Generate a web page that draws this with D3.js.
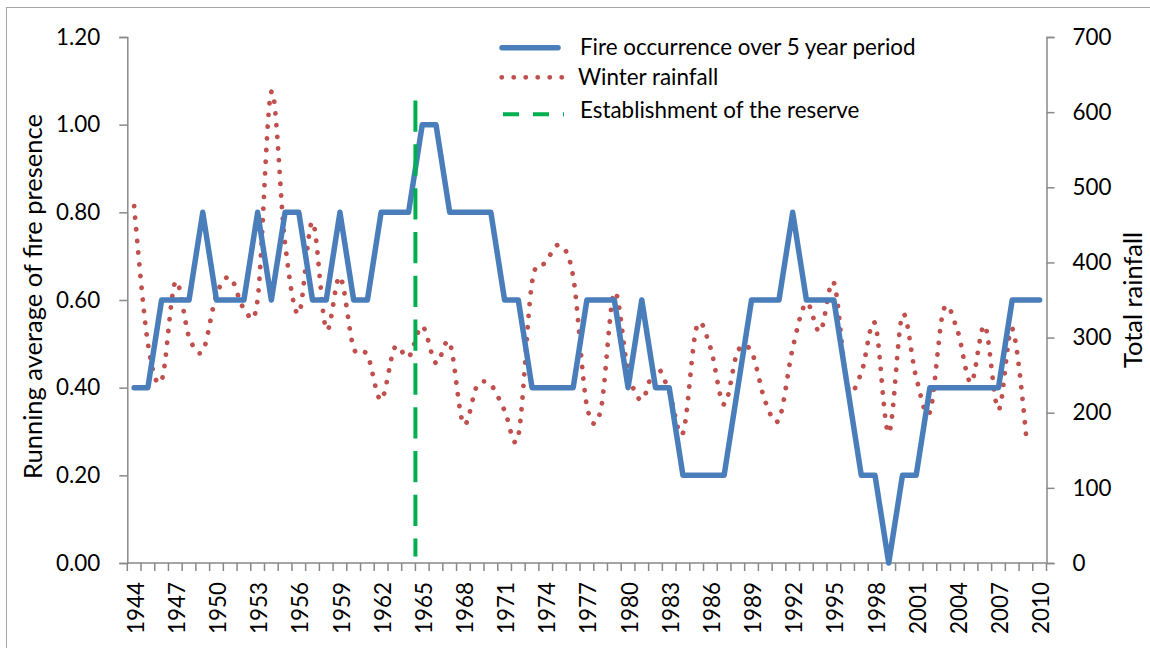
<!DOCTYPE html>
<html>
<head>
<meta charset="utf-8">
<script src="https://cdn.jsdelivr.net/npm/d3@7"></script>
<style>
  body { margin: 0; background: #fff; }
  svg text { font-family: Lato, "Open Sans", sans-serif; fill: #000; }
</style>
</head>
<body>
<div id="container"></div>
<script>
const years = d3.range(1944, 2011)

// running average of fire presence, 1944-2010
const fire = [0.4, 0.4, 0.6, 0.6, 0.6, 0.8, 0.6, 0.6, 0.6, 0.8,
  0.6, 0.8, 0.8, 0.6, 0.6, 0.8, 0.6, 0.6, 0.8, 0.8,
  0.8, 1.0, 1.0, 0.8, 0.8, 0.8, 0.8, 0.6, 0.6, 0.4,
  0.4, 0.4, 0.4, 0.6, 0.6, 0.6, 0.4, 0.6, 0.4, 0.4,
  0.2, 0.2, 0.2, 0.2, 0.4, 0.6, 0.6, 0.6, 0.8, 0.6,
  0.6, 0.6, 0.4, 0.2, 0.2, 0.0, 0.2, 0.2, 0.4, 0.4,
  0.4, 0.4, 0.4, 0.4, 0.6, 0.6, 0.6]

// winter rainfall, 1944-2009
const rainfall = [475, 292, 243, 374, 301, 282, 357, 380, 339, 351,
  627, 425, 332, 454, 311, 381, 286, 277, 217, 287,
  274, 315, 266, 293, 185, 236, 237, 203, 169, 373,
  400, 423, 381, 209, 203, 360, 256, 217, 261, 228,
  173, 314, 287, 211, 282, 281, 215, 191, 286, 346,
  308, 373, 235, 253, 319, 173, 330, 247, 201, 337,
  310, 240, 316, 204, 312, 172]

const reserveYear = 1965
const reserveSpan = [0.015, 1.055]

const leftTicks = [0, 0.2, 0.4, 0.6, 0.8, 1.0, 1.2]
const rightTicks = [0, 100, 200, 300, 400, 500, 600, 700]
const yearLabels = years.filter((d, i) => i % 3 === 0)

const legendItems = ["Fire occurrence over 5 year period", "Winter rainfall", "Establishment of the reserve"]

const w = 1150
const h = 648
const padL = 127.3, padR = 1046.5, padT = 37, padB = 563

const blue = "#4A7EBB", red = "#C0504D", green = "#00B050", axisCol = "#898989"

const svg = d3.select("#container")
  .append("svg")
  .attr("width", w)
  .attr("height", h)

svg.append("rect")
  .attr("x", 6.5).attr("y", 7.5)
  .attr("width", w).attr("height", h)
  .attr("fill", "none")
  .attr("stroke", "#a6a6a6")

const x = d3.scaleBand()
  .domain(years)
  .range([padL, padR])

const yL = d3.scaleLinear().domain([0, 1.2]).range([padB, padT])
const yR = d3.scaleLinear().domain([0, 700]).range([padB, padT])

const cx = d => x(d) + x.bandwidth() / 2

// axes
const axisL = svg.append("g")
  .attr("transform", `translate(${padL},0)`)
  .call(d3.axisLeft(yL).tickValues(leftTicks).tickFormat(d3.format(".2f")).tickSizeOuter(0).tickSize(8).tickPadding(19))

const axisR = svg.append("g")
  .attr("transform", `translate(${padR},0)`)
  .call(d3.axisRight(yR).tickValues(rightTicks).tickSizeOuter(0).tickSize(8).tickPadding(18))

svg.selectAll(".xtick")
  .data(years.concat([null]))
  .enter()
  .append("line")
  .attr("x1", d => d === null ? padR : x(d))
  .attr("x2", d => d === null ? padR : x(d))
  .attr("y1", padB)
  .attr("y2", padB + 8)
  .attr("stroke", axisCol)
  .attr("stroke-width", 1.5)

svg.append("line")
  .attr("x1", padL).attr("x2", padR)
  .attr("y1", padB).attr("y2", padB)
  .attr("stroke", axisCol)
  .attr("stroke-width", 1.5)

svg.selectAll(".xlab")
  .data(yearLabels)
  .enter()
  .append("text")
  .attr("transform", d => `translate(${cx(d) + 1.5},${padB + 19}) rotate(-90)`)
  .attr("text-anchor", "end")
  .attr("dy", "0.36em")
  .attr("font-size", 22.4)
  .text(d => d)

for (const g of [axisL, axisR]) {
  g.select(".domain").attr("stroke", axisCol).attr("stroke-width", 1.5)
  g.selectAll(".tick line").attr("stroke", axisCol).attr("stroke-width", 1.5)
  g.selectAll(".tick text").attr("font-size", 22.4).attr("font-family", "Lato").attr("fill", "#000")
}

// axis titles
svg.append("text")
  .attr("transform", `translate(33,296.5) rotate(-90)`)
  .attr("text-anchor", "middle")
  .attr("dy", "0.36em")
  .attr("font-size", 25.5)
  .text("Running average of fire presence")

svg.append("text")
  .attr("transform", `translate(1133,300) rotate(-90)`)
  .attr("text-anchor", "middle")
  .attr("dy", "0.36em")
  .attr("font-size", 25.5)
  .text("Total rainfall")

// rainfall (smoothed, dotted)
const rainLine = d3.line()
  .x((d, i) => cx(years[i]))
  .y(d => yR(d))
  .curve(d3.curveCardinal.tension(0))

svg.append("path")
  .datum(rainfall)
  .attr("d", rainLine)
  .attr("fill", "none")
  .attr("stroke", red)
  .attr("stroke-width", 4.8)
  .attr("stroke-linecap", "round")
  .attr("stroke-dasharray", "0.1 11.6")

// fire occurrence
const fireLine = d3.line()
  .x((d, i) => cx(years[i]))
  .y(d => yL(d))

svg.append("path")
  .datum(fire)
  .attr("d", fireLine)
  .attr("fill", "none")
  .attr("stroke", blue)
  .attr("stroke-width", 5.5)
  .attr("stroke-linejoin", "round")
  .attr("stroke-linecap", "round")

// establishment of the reserve
svg.append("line")
  .attr("x1", x(reserveYear)).attr("x2", x(reserveYear))
  .attr("y1", yL(reserveSpan[1])).attr("y2", yL(reserveSpan[0]))
  .attr("stroke", green)
  .attr("stroke-width", 4)
  .attr("stroke-dasharray", "31.3 12.5")

// legend
const lg = svg.append("g")
lg.append("line")
  .attr("x1", 502).attr("x2", 558).attr("y1", 47.7).attr("y2", 47.7)
  .attr("stroke", blue).attr("stroke-width", 5.5).attr("stroke-linecap", "round")
lg.append("line")
  .attr("x1", 501.7).attr("x2", 562).attr("y1", 77.3).attr("y2", 77.3)
  .attr("stroke", red).attr("stroke-width", 4.8).attr("stroke-linecap", "round")
  .attr("stroke-dasharray", "0.1 11.9")
lg.append("line")
  .attr("x1", 503).attr("x2", 564).attr("y1", 114.3).attr("y2", 114.3)
  .attr("stroke", green).attr("stroke-width", 4)
  .attr("stroke-dasharray", "16 14")

lg.selectAll("text")
  .data(legendItems)
  .enter()
  .append("text")
  .attr("x", (d, i) => [580, 578, 580][i])
  .attr("y", (d, i) => [55, 85, 117.7][i])
  .attr("font-size", 22.4)
  .text(d => d)
</script>
</body>
</html>
